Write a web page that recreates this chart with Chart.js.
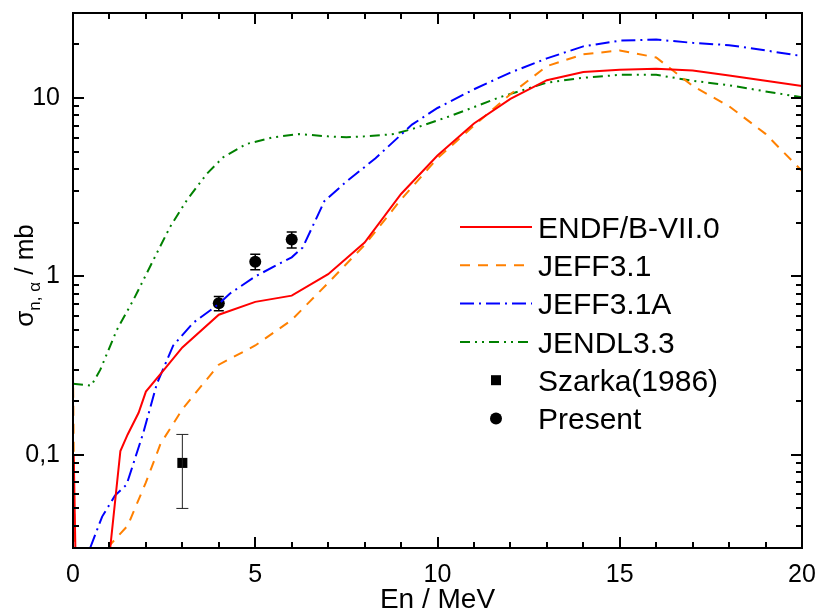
<!DOCTYPE html>
<html>
<head>
<meta charset="utf-8">
<script src="https://cdn.jsdelivr.net/npm/chart.js@4.4.0/dist/chart.umd.min.js"></script>
<style>
  html, body { margin: 0; padding: 0; background: #fff; }
</style>
</head>
<body>
<canvas id="myChart" width="818" height="612"></canvas>
<script>
// neutron energy in MeV, cross sections in mb
const endfE = [0.02, 0.08, 0.98, 1.3, 1.5, 1.8, 2.0, 2.5, 3.0, 4.0, 5.0, 6.0, 7.0, 8.0, 9.0, 10.0, 11.0, 12.0, 13.0, 14.0, 15.0, 16.0, 17.0, 18.0, 19.0, 20.0];
const endfS = [0.1, 0.02, 0.025, 0.105, 0.13, 0.172, 0.226, 0.3, 0.4, 0.61, 0.72, 0.78, 1.03, 1.55, 2.9, 4.76, 7.2, 9.9, 12.6, 14.0, 14.4, 14.6, 14.3, 13.4, 12.5, 11.7];

const jeffE = [0.0, 0.05, 0.85, 1.0, 1.5, 2.0, 2.4, 3.0, 4.0, 5.0, 6.0, 7.0, 8.0, 9.0, 10.0, 11.0, 12.0, 13.0, 14.0, 15.0, 16.0, 17.0, 18.0, 19.0, 20.0];
const jeffS = [0.3, 0.02, 0.02, 0.031, 0.04, 0.07, 0.115, 0.18, 0.32, 0.41, 0.57, 0.92, 1.5, 2.7, 4.6, 7.0, 10.5, 15.1, 17.6, 18.5, 16.9, 11.7, 9.0, 6.3, 3.9];

const jeffaE = [0.47, 0.8, 1.15, 1.47, 1.93, 2.3, 2.75, 3.3, 4.0, 4.3, 5.0, 6.0, 6.3, 6.9, 7.5, 8.3, 9.3, 10.0, 11.0, 12.0, 13.0, 14.0, 15.0, 16.0, 17.0, 18.0, 19.0, 20.0];
const jeffaS = [0.03, 0.045, 0.059, 0.068, 0.133, 0.25, 0.41, 0.55, 0.7, 0.8, 1.0, 1.28, 1.45, 2.65, 3.4, 4.6, 7.1, 8.8, 11.2, 13.9, 16.7, 19.5, 21.0, 21.3, 20.4, 19.8, 18.5, 17.2];

const jendlE = [0.0, 0.5, 0.75, 1.2, 1.66, 2.2, 2.66, 3.12, 3.67, 4.12, 4.76, 5.5, 6.2, 7.0, 7.5, 8.0, 8.8, 9.3, 10.25, 11.0, 11.7, 13.0, 14.0, 15.0, 16.0, 17.0, 18.0, 19.0, 20.0];
const jendlS = [0.25, 0.244, 0.3, 0.5, 0.74, 1.23, 1.89, 2.67, 3.76, 4.66, 5.53, 6.03, 6.28, 6.1, 6.03, 6.1, 6.28, 6.7, 7.8, 8.9, 10.1, 12.2, 13.0, 13.5, 13.5, 12.5, 11.8, 10.9, 10.1];

const szarkaE = [3.0];
const szarkaS = [0.09];
const szarkaLo = [0.05];
const szarkaHi = [0.13];

const presentE = [4.0, 5.0, 6.0];
const presentS = [0.707, 1.21, 1.61];
const presentErr = [0.065, 0.12, 0.165];

const xTicks = [0, 5, 10, 15, 20];
const yTicks = [0.1, 1, 10];
const yTickLabels = ['0,1', '1', '10'];

const pts = (xs, ys) => xs.map((v, i) => ({x: v, y: ys[i]}));
const FONT = '"Liberation Sans", Arial, sans-serif';

Chart.defaults.font.family = FONT;
Chart.defaults.color = '#000';

// inward ticks on all four sides plus the frame
const frameTicks = {
  id: 'frameTicks',
  afterDraw(chart) {
    const {ctx, chartArea: a, scales: {x, y}} = chart;
    ctx.save();
    ctx.strokeStyle = '#000';
    ctx.lineWidth = 2;
    ctx.beginPath();
    for (let v = 0; v <= 20; v++) {
      const px = Math.round(x.getPixelForValue(v));
      const len = v % 5 === 0 ? 11 : 6;
      ctx.moveTo(px, a.bottom); ctx.lineTo(px, a.bottom - len);
      ctx.moveTo(px, a.top); ctx.lineTo(px, a.top + len);
    }
    for (const dec of [0.01, 0.1, 1, 10]) {
      for (let m = 1; m <= 9; m++) {
        const v = dec * m;
        if (v < y.min * 0.999 || v > y.max * 1.001) continue;
        const py = Math.round(y.getPixelForValue(v));
        const len = m === 1 ? 11 : 6;
        ctx.moveTo(a.left, py); ctx.lineTo(a.left + len, py);
        ctx.moveTo(a.right, py); ctx.lineTo(a.right - len, py);
      }
    }
    ctx.stroke();
    ctx.strokeRect(a.left, a.top, a.right - a.left, a.bottom - a.top);

    // y axis title with subscript
    const main = '26px ' + FONT, sub = '17px ' + FONT;
    ctx.fillStyle = '#000';
    ctx.textBaseline = 'alphabetic';
    ctx.textAlign = 'left';
    ctx.font = main; const w1 = ctx.measureText('σ').width, w3 = ctx.measureText(' / mb').width;
    ctx.font = sub; const w2 = ctx.measureText('n, α').width;
    const total = w1 + w2 + w3;
    ctx.translate(33, (a.top + a.bottom) / 2 + total / 2 - 5);
    ctx.rotate(-Math.PI / 2);
    ctx.font = main; ctx.fillText('σ', 0, 0);
    ctx.font = sub; ctx.fillText('n, α', w1, 7);
    ctx.font = main; ctx.fillText(' / mb', w1 + w2, 0);
    ctx.restore();
  }
};

// error bars for the measured points
const errorBars = {
  id: 'errorBars',
  afterDatasetsDraw(chart) {
    const {ctx, scales: {x, y}} = chart;
    ctx.save();
    const bar = (e, lo, hi, half, color, lw) => {
      const px = x.getPixelForValue(e), p1 = y.getPixelForValue(lo), p2 = y.getPixelForValue(hi);
      ctx.strokeStyle = color; ctx.lineWidth = lw;
      ctx.beginPath();
      ctx.moveTo(px, p1); ctx.lineTo(px, p2);
      ctx.moveTo(px - half, p1); ctx.lineTo(px + half, p1);
      ctx.moveTo(px - half, p2); ctx.lineTo(px + half, p2);
      ctx.stroke();
    };
    szarkaE.forEach((e, i) => bar(e, szarkaLo[i], szarkaHi[i], 6, '#222', 1));
    presentE.forEach((e, i) => bar(e, presentS[i] - presentErr[i], presentS[i] + presentErr[i], 5, '#000', 1.5));
    ctx.restore();
  }
};

// legend inside the plot
const insideLegend = {
  id: 'insideLegend',
  afterDraw(chart) {
    const {ctx} = chart;
    ctx.save();
    ctx.font = '30px ' + FONT;
    ctx.fillStyle = '#000';
    ctx.textBaseline = 'alphabetic';
    chart.data.datasets.forEach((ds, i) => {
      const cy = 227 + i * 38.3;
      if (ds.showLine === false) {
        ctx.fillStyle = '#000';
        if (ds.pointStyle === 'rect') {
          ctx.fillRect(491, cy - 5, 10, 10);
        } else {
          ctx.beginPath(); ctx.arc(496, cy, 6, 0, Math.PI * 2); ctx.fill();
        }
      } else {
        ctx.strokeStyle = ds.borderColor;
        ctx.lineWidth = 2;
        ctx.setLineDash(ds.borderDash || []);
        ctx.beginPath(); ctx.moveTo(460, cy); ctx.lineTo(532, cy); ctx.stroke();
        ctx.setLineDash([]);
      }
      ctx.fillStyle = '#000';
      ctx.fillText(ds.label, 538, cy + 10.8);
    });
    ctx.restore();
  }
};

const curve = (label, xs, ys, color, dash) => ({
  label, data: pts(xs, ys), borderColor: color, backgroundColor: color,
  borderWidth: 2, borderDash: dash, pointRadius: 0, tension: 0, fill: false
});

new Chart(document.getElementById('myChart').getContext('2d'), {
  type: 'line',
  data: {
    datasets: [
      curve('ENDF/B-VII.0', endfE, endfS, '#ff0000', []),
      curve('JEFF3.1', jeffE, jeffS, '#ff8000', [10, 8]),
      curve('JEFF3.1A', jeffaE, jeffaS, '#0000ff', [14, 5, 2, 5]),
      curve('JENDL3.3', jendlE, jendlS, '#008000', [10, 5, 2, 5, 2, 5]),
      {label: 'Szarka(1986)', data: pts(szarkaE, szarkaS), showLine: false, pointStyle: 'rect',
       pointRadius: 7.1, backgroundColor: '#000', borderColor: '#000', borderWidth: 0},
      {label: 'Present', data: pts(presentE, presentS), showLine: false, pointStyle: 'circle',
       pointRadius: 6, backgroundColor: '#000', borderColor: '#000', borderWidth: 0}
    ]
  },
  options: {
    responsive: false,
    animation: false,
    devicePixelRatio: 1,
    layout: {padding: {top: 13, right: 16, left: 0, bottom: 0}},
    plugins: {legend: {display: false}, tooltip: {enabled: false}},
    scales: {
      x: {
        type: 'linear', min: 0, max: 20,
        afterBuildTicks: (axis) => { axis.ticks = xTicks.map(v => ({value: v})); },
        afterFit: (axis) => { axis.height = 64; axis.paddingLeft = 0; axis.paddingRight = 0; },
        grid: {display: false, drawTicks: false},
        border: {display: false},
        ticks: {font: {size: 25}, padding: 12, maxRotation: 0},
        title: {display: true, text: 'En / MeV', font: {size: 28, lineHeight: 0.85}, padding: 0}
      },
      y: {
        type: 'logarithmic', min: 0.03, max: 30,
        afterBuildTicks: (axis) => { axis.ticks = yTicks.map(v => ({value: v})); },
        afterFit: (axis) => { axis.width = 73; axis.paddingTop = 0; axis.paddingBottom = 0; },
        grid: {display: false, drawTicks: false},
        border: {display: false},
        ticks: {font: {size: 25}, padding: 13, callback: (v) => yTickLabels[yTicks.indexOf(v)]}
      }
    }
  },
  plugins: [errorBars, frameTicks, insideLegend]
});
</script>
</body>
</html>
